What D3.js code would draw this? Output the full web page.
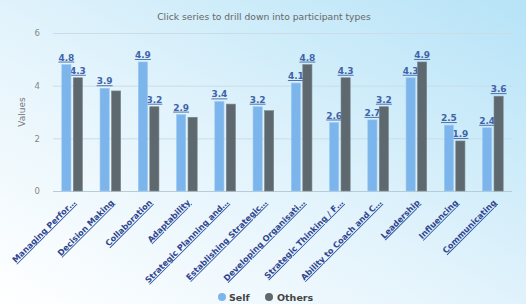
<!DOCTYPE html>
<html><head><meta charset="utf-8">
<script src="https://cdn.jsdelivr.net/npm/d3@7/dist/d3.min.js"></script>
<style>html,body{margin:0;padding:0;overflow:hidden}svg{display:block}</style>
</head><body>
<svg id="c" width="526" height="304"></svg>
<script>
const categories = ["Managing Perfor…","Decision Making","Collaboration","Adaptability","Strategic Planning and…","Establishing Strategic…","Developing Organisati…","Strategic Thinking / F…","Ability to Coach and C…","Leadership","Influencing","Communicating"];
const seriesNames = ["Self","Others"];
const selfValues = [4.8,3.9,4.9,2.9,3.4,3.2,4.1,2.6,2.7,4.3,2.5,2.4];
const othersValues = [4.3,3.8,3.2,2.8,3.3,3.05,4.8,4.3,3.2,4.9,1.9,3.6];
const yTicks = [0,2,4,6];
const colors = ["#7cb5ec","#5d686f"];

const svg = d3.select("#c");
const W = 526, H = 304;
const m = {l:53, r:14, t:33, b:113};
const defs = svg.append("defs");
const g0 = defs.append("linearGradient").attr("id","bg").attr("x1","0").attr("y1","1").attr("x2","1").attr("y2","0");
g0.append("stop").attr("offset","0").attr("stop-color","#ffffff");
g0.append("stop").attr("offset","0.45").attr("stop-color","#e4f4fc");
g0.append("stop").attr("offset","1").attr("stop-color","#b6e3f7");
svg.append("rect").attr("width",W).attr("height",H).attr("fill","url(#bg)");

const x = d3.scaleBand().domain(categories).range([m.l, W-m.r]).paddingInner(0).paddingOuter(0);
const y = d3.scaleLinear().domain([0,6]).range([H-m.b, m.t]);
const xs = d3.scaleBand().domain(seriesNames).range([0, x.bandwidth()*0.6]).paddingInner(0.2).paddingOuter(0.1);
const groupOff = x.bandwidth()*0.2;

// title
svg.append("text").attr("x", 264).attr("y", 20).attr("text-anchor","middle")
  .attr("font-family","DejaVu Sans, sans-serif").attr("font-size","9.2px").attr("fill","#666")
  .text("Click series to drill down into participant types");

// grid
const yAxis = d3.axisLeft(y).tickValues(yTicks).tickSize(-(W-m.l-m.r)).tickFormat(d3.format("d"));
const ga = svg.append("g").attr("transform",`translate(${m.l},0)`).call(yAxis);
ga.select(".domain").remove();
ga.selectAll(".tick line").attr("stroke","#c9dce8").attr("stroke-width",1);
ga.selectAll(".tick text").attr("x",-13).attr("fill","#888").attr("font-family","DejaVu Sans, sans-serif").attr("font-size","8.5px");
svg.append("line").attr("x1",m.l).attr("x2",W-m.r).attr("y1",y(0)+0.5).attr("y2",y(0)+0.5).attr("stroke","#b8cbd8");

svg.append("text").attr("transform",`translate(25,${(y(0)+y(6))/2}) rotate(-90)`).attr("text-anchor","middle")
  .attr("font-family","DejaVu Sans, sans-serif").attr("font-size","9px").attr("fill","#777").text("Values");

const series = [selfValues, othersValues];
const labelBoxes = [];
const labelsG = svg.append("g");
series.forEach((vals, si) => {
  const name = seriesNames[si];
  svg.append("g").selectAll("rect").data(vals).join("rect")
    .attr("x",(d,i)=>x(categories[i])+groupOff+xs(name))
    .attr("y",d=>y(d))
    .attr("width",xs.bandwidth())
    .attr("height",d=>y(0)-y(d))
    .attr("fill",colors[si])
    .attr("stroke", si===0 ? "#9cc9f0" : "#7d878d").attr("stroke-width",0.6);
});
// data labels with overlap hiding
const labelData = [];
series.forEach((vals, si) => vals.forEach((v,i)=>labelData.push({v, si, i})));
labelData.sort((a,b)=>a.i-b.i || a.si-b.si);
labelData.forEach(d => {
  const name = seriesNames[d.si];
  const cx = x(categories[d.i])+groupOff+xs(name)+xs.bandwidth()/2;
  const ty = y(d.v)-4;
  const t = labelsG.append("text").attr("x",cx).attr("y",ty).attr("text-anchor","middle")
    .attr("font-family","DejaVu Sans, sans-serif").attr("font-size","9px").attr("font-weight","bold")
    .attr("fill","#3f63a8").attr("text-decoration","underline").text(d3.format(".1f")(d.v));
  const bb = t.node().getBBox();
  const hit = labelBoxes.some(b => !(bb.x+bb.width < b.x || b.x+b.width < bb.x || bb.y+bb.height < b.y || b.y+b.height < bb.y));
  if (hit) t.remove(); else labelBoxes.push(bb);
});

// x labels
svg.append("g").selectAll("text").data(categories).join("text")
  .attr("transform",d=>`translate(${x(d)+x.bandwidth()/2+4},${y(0)+12}) rotate(-45)`)
  .attr("text-anchor","end")
  .attr("font-family","DejaVu Sans, sans-serif").attr("font-size","8.2px").attr("font-weight","bold")
  .attr("fill","#2e4590").attr("text-decoration","underline").text(d=>d);

// legend
const leg = [{n:"Self",cx:222,tx:229},{n:"Others",cx:269,tx:277}];
leg.forEach((l,i)=>{
  svg.append("circle").attr("cx",l.cx).attr("cy",297).attr("r",4).attr("fill",colors[i]);
  svg.append("text").attr("x",l.tx).attr("y",300.5).attr("font-family","DejaVu Sans, sans-serif")
    .attr("font-size","9.5px").attr("font-weight","bold").attr("fill","#444").text(l.n);
});
</script>
</body></html>
